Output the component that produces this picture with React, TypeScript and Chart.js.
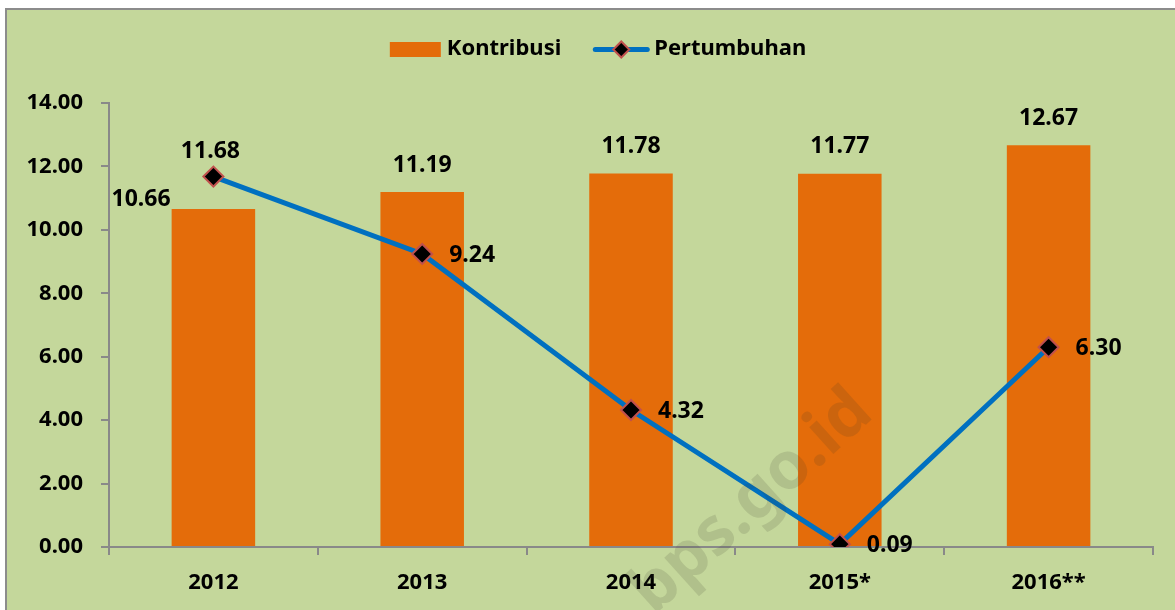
import React, { useEffect, useRef } from "react";
import { Chart, registerables } from "chart.js";

Chart.register(...registerables);

const categories = ["2012", "2013", "2014", "2015*", "2016**"];
const kontribusi = [10.66, 11.19, 11.78, 11.77, 12.67];
const pertumbuhan = [11.68, 9.24, 4.32, 0.09, 6.3];
const yTickValues = [0, 2, 4, 6, 8, 10, 12, 14];
const seriesNames = ["Kontribusi", "Pertumbuhan"];
const watermarkText = "bps.go.id";

const FONT = '"Noto Sans", sans-serif';
const BG = "#C4D79B";
const ORANGE = "#E46C0A";
const BLUE = "#0070C0";
const AXIS = "#898989";

function drawDiamond(ctx: CanvasRenderingContext2D, x: number, y: number, r: number) {
  ctx.beginPath();
  ctx.moveTo(x - r, y);
  ctx.lineTo(x, y - r);
  ctx.lineTo(x + r, y);
  ctx.lineTo(x, y + r);
  ctx.closePath();
  ctx.fillStyle = "#000";
  ctx.fill();
  ctx.lineWidth = 2;
  ctx.strokeStyle = "#C0504D";
  ctx.stroke();
}

const backgroundPlugin = {
  id: "bgFrame",
  beforeDraw(chart: any) {
    const { ctx, width, height } = chart;
    ctx.save();
    ctx.fillStyle = "#fff";
    ctx.fillRect(0, 0, width, height);
    ctx.fillStyle = BG;
    ctx.fillRect(5, 8, width - 5, height - 8);
    ctx.fillStyle = "#8c8c8c";
    ctx.fillRect(5, 8, 2, height - 8);
    ctx.fillRect(5, 8, width - 5, 2);
    ctx.restore();
  },
};

const labelsPlugin = {
  id: "valueLabels",
  afterDatasetsDraw(chart: any) {
    const { ctx } = chart;
    ctx.save();
    ctx.font = `bold 23px ${FONT}`;
    ctx.fillStyle = "#000";
    ctx.textBaseline = "middle";
    const bars = chart.getDatasetMeta(0).data;
    bars.forEach((el: any, i: number) => {
      const txt = kontribusi[i].toFixed(2);
      if (i === 0) {
        const left = el.x - el.width / 2;
        ctx.textAlign = "right";
        ctx.fillText(txt, left - 1, el.y - 9);
      } else {
        ctx.textAlign = "center";
        ctx.fillText(txt, el.x, el.y - 27);
      }
    });
    const pts = chart.getDatasetMeta(1).data;
    pts.forEach((el: any, i: number) => {
      const txt = pertumbuhan[i].toFixed(2);
      if (i === 0) {
        ctx.textAlign = "center";
        ctx.fillText(txt, el.x - 3, el.y - 25);
      } else {
        ctx.textAlign = "left";
        ctx.fillText(txt, el.x + 27, el.y + 1);
      }
    });
    ctx.restore();
  },
};

const legendPlugin = {
  id: "customLegend",
  afterDraw(chart: any) {
    const { ctx } = chart;
    ctx.save();
    ctx.font = `bold 22px ${FONT}`;
    const w1 = ctx.measureText(seriesNames[0]).width;
    const w2 = ctx.measureText(seriesNames[1]).width;
    const boxW = 51, gap1 = 6, gapMid = 32, lineW = 56, gap2 = 5;
    const total = boxW + gap1 + w1 + gapMid + lineW + gap2 + w2;
    const cx = 598;
    const y = 49;
    let x = cx - total / 2;
    ctx.fillStyle = ORANGE;
    ctx.fillRect(x, y - 7, boxW, 15);
    x += boxW + gap1;
    ctx.fillStyle = "#000";
    ctx.textAlign = "left";
    ctx.textBaseline = "middle";
    ctx.fillText(seriesNames[0], x, y);
    x += w1 + gapMid;
    ctx.strokeStyle = BLUE;
    ctx.lineWidth = 5;
    ctx.lineCap = "round";
    ctx.beginPath();
    ctx.moveTo(x + 2, y + 0.5);
    ctx.lineTo(x + lineW - 2, y + 0.5);
    ctx.stroke();
    drawDiamond(ctx, x + lineW / 2, y + 0.5, 8);
    x += lineW + gap2;
    ctx.fillStyle = "#000";
    ctx.fillText(seriesNames[1], x, y);
    ctx.restore();
  },
};

const watermarkPlugin = {
  id: "watermark",
  afterDraw(chart: any) {
    const { ctx } = chart;
    ctx.save();
    ctx.translate(752, 502);
    ctx.rotate((-42 * Math.PI) / 180);
    ctx.font = `bold 66px ${FONT}`;
    ctx.fillStyle = "rgba(60,60,40,0.14)";
    ctx.textAlign = "center";
    ctx.textBaseline = "middle";
    ctx.fillText(watermarkText, 0, 0);
    ctx.restore();
  },
};

export default function App() {
  const ref = useRef<HTMLCanvasElement | null>(null);

  useEffect(() => {
    if (!ref.current) return;
    const tickFont = { family: FONT, size: 22, weight: "bold" as const };
    const chart = new Chart(ref.current, {
      type: "bar",
      data: {
        labels: categories,
        datasets: [
          {
            type: "bar",
            label: seriesNames[0],
            data: kontribusi,
            backgroundColor: ORANGE,
            borderWidth: 0,
            categoryPercentage: 1,
            barPercentage: 0.4,
            order: 1,
          },
          {
            type: "line",
            label: seriesNames[1],
            data: pertumbuhan,
            borderColor: BLUE,
            borderWidth: 5,
            tension: 0,
            pointStyle: "rectRot",
            pointRadius: 10,
            pointHoverRadius: 10,
            pointBackgroundColor: "#000",
            pointBorderColor: "#C0504D",
            pointBorderWidth: 2,
            order: 0,
          } as any,
        ],
      },
      options: {
        animation: false,
        responsive: false,
        maintainAspectRatio: false,
        events: [],
        layout: { padding: { top: 103, right: 22, left: 0, bottom: 0 } },
        plugins: {
          legend: { display: false },
          tooltip: { enabled: false },
        },
        scales: {
          x: {
            offset: true,
            grid: {
              display: true,
              offset: true,
              drawOnChartArea: false,
              drawTicks: true,
              tickLength: 8,
              color: AXIS,
              lineWidth: 2,
            },
            border: { display: true, color: AXIS, width: 2 },
            ticks: { font: tickFont, color: "#000", padding: 15 },
            afterFit: (s: any) => {
              s.height = 63;
            },
          },
          y: {
            min: 0,
            max: 14,
            afterBuildTicks: (s: any) => {
              s.ticks = yTickValues.map((v) => ({ value: v }));
            },
            grid: {
              display: true,
              drawOnChartArea: false,
              drawTicks: true,
              tickLength: 8,
              color: AXIS,
              lineWidth: 2,
            },
            border: { display: true, color: AXIS, width: 2 },
            ticks: {
              font: tickFont,
              color: "#000",
              padding: 18,
              callback: (v: any) => Number(v).toFixed(2),
            },
            afterFit: (s: any) => {
              s.width = 109;
            },
          },
        },
      },
      plugins: [backgroundPlugin, labelsPlugin, legendPlugin, watermarkPlugin],
    });
    return () => chart.destroy();
  }, []);

  return (
    <div style={{ position: "fixed", left: 0, top: 0, width: 1175, height: 610 }}>
      <canvas ref={ref} width={1175} height={610} style={{ width: 1175, height: 610, display: "block" }} />
    </div>
  );
}
